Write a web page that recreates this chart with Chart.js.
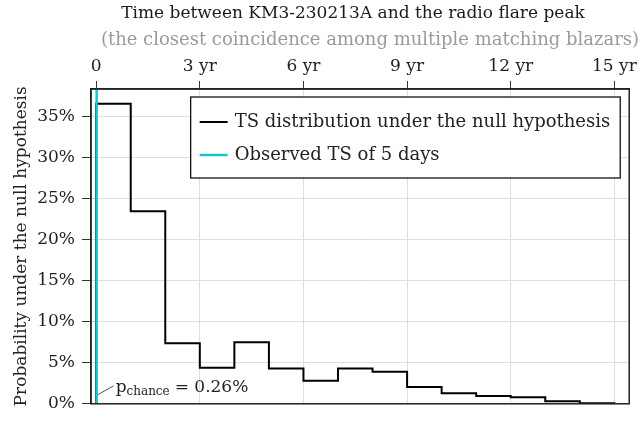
<!DOCTYPE html>
<html lang="en">
<head>
<meta charset="UTF-8">
<title>Time between KM3-230213A and the radio flare peak</title>
<script src="https://cdn.jsdelivr.net/npm/chart.js"></script>
<style>
  html, body { margin: 0; padding: 0; background: #fff; }
  #wrap { width: 641px; height: 421px; }
</style>
</head>
<body>
<div id="wrap"><canvas id="chart"></canvas></div>
<script>
// null-hypothesis TS histogram, 1-year bins (probability in %)
const binEdgesYr = [0, 1, 2, 3, 4, 5, 6, 7, 8, 9, 10, 11, 12, 13, 14, 15];
const nullProb = [36.6, 23.5, 7.4, 4.4, 7.5, 4.3, 2.8, 4.3, 3.9, 2.05, 1.3, 0.95, 0.8, 0.3, 0.08];
const observedDays = 5;
const pChanceText = '0.26%';
const xTicks = [0, 3, 6, 9, 12, 15];
const yTicks = [0, 5, 10, 15, 20, 25, 30, 35];
const X_MIN = -0.15, X_MAX = 15.43, Y_MAX = 38.4;

const titleText = 'Time between KM3-230213A and the radio flare peak';
const subtitleText = '(the closest coincidence among multiple matching blazars)';

const FONT = "'DejaVu Serif', 'Liberation Serif', serif";
const observedYr = observedDays / 365.25;

// outline of the histogram built from the bins
const stepPts = [{ x: binEdgesYr[0], y: 0 }];
nullProb.forEach((v, i) => {
  stepPts.push({ x: binEdgesYr[i], y: v }, { x: binEdgesYr[i + 1], y: v });
});
stepPts.push({ x: binEdgesYr[binEdgesYr.length - 1], y: 0 });

const obsLine = [{ x: observedYr, y: 0 }, { x: observedYr, y: Y_MAX }];

// title + grey subtitle above the top axis
const headPlugin = {
  id: 'head',
  afterDraw(chart) {
    const ctx = chart.ctx;
    ctx.save();
    ctx.textAlign = 'center';
    ctx.textBaseline = 'alphabetic';
    ctx.font = '17px ' + FONT;
    ctx.fillStyle = '#1a1a1a';
    ctx.fillText(titleText, 353, 18);
    ctx.font = '18px ' + FONT;
    ctx.fillStyle = '#9b9b9b';
    ctx.fillText(subtitleText, 370, 45);
    ctx.restore();
  }
};

// frame round the plot area
const framePlugin = {
  id: 'frame',
  afterDatasetsDraw(chart) {
    const a = chart.chartArea, ctx = chart.ctx;
    ctx.save();
    ctx.strokeStyle = '#222';
    ctx.lineWidth = 1.5;
    ctx.strokeRect(a.left, a.top, a.right - a.left, a.bottom - a.top);
    ctx.restore();
  }
};

// p_chance note next to the observed line
const notePlugin = {
  id: 'note',
  afterDatasetsDraw(chart) {
    const ctx = chart.ctx;
    const x0 = chart.scales.x.getPixelForValue(observedYr);
    const y0 = chart.chartArea.bottom;
    ctx.save();
    ctx.strokeStyle = '#555';
    ctx.lineWidth = 1;
    ctx.beginPath();
    ctx.moveTo(x0 + 1, y0 - 9);
    ctx.lineTo(x0 + 17, y0 - 18);
    ctx.stroke();
    ctx.fillStyle = '#222';
    ctx.textBaseline = 'alphabetic';
    let x = x0 + 19;
    ctx.font = '17px ' + FONT;
    ctx.fillText('p', x, y0 - 12);
    x += ctx.measureText('p').width;
    ctx.font = '12px ' + FONT;
    ctx.fillText('chance', x, y0 - 9);
    x += ctx.measureText('chance').width + 5;
    ctx.font = '17px ' + FONT;
    ctx.fillText('= ' + pChanceText, x, y0 - 12);
    ctx.restore();
  }
};

// legend box in the upper right of the plot
const legendPlugin = {
  id: 'boxLegend',
  afterDraw(chart) {
    const ctx = chart.ctx, a = chart.chartArea;
    const sets = [chart.data.datasets[1], chart.data.datasets[0]];
    ctx.save();
    ctx.font = '18px ' + FONT;
    const tw = Math.max(...sets.map(d => ctx.measureText(d.label).width));
    const w = tw + 54, h = 81;
    const bx = a.right - 9 - w, by = a.top + 8;
    ctx.fillStyle = '#fff';
    ctx.fillRect(bx, by, w, h);
    ctx.strokeStyle = '#111';
    ctx.lineWidth = 1.3;
    ctx.strokeRect(bx, by, w, h);
    sets.forEach((d, i) => {
      const cy = by + 25 + i * 33;
      ctx.strokeStyle = d.borderColor;
      ctx.lineWidth = d.borderWidth;
      ctx.beginPath();
      ctx.moveTo(bx + 9, cy);
      ctx.lineTo(bx + 37, cy);
      ctx.stroke();
      ctx.fillStyle = '#222';
      ctx.textBaseline = 'middle';
      ctx.fillText(d.label, bx + 44, cy);
    });
    ctx.restore();
  }
};

new Chart(document.getElementById('chart'), {
  type: 'line',
  data: {
    datasets: [
      {
        label: 'Observed TS of 5 days',
        data: obsLine,
        borderColor: '#14c8cc',
        borderWidth: 2.5,
        pointRadius: 0,
        order: 0
      },
      {
        label: 'TS distribution under the null hypothesis',
        data: stepPts,
        borderColor: '#000',
        borderWidth: 2,
        pointRadius: 0,
        tension: 0,
        order: 1
      }
    ]
  },
  options: {
    responsive: true,
    maintainAspectRatio: false,
    animation: false,
    devicePixelRatio: 1,
    layout: { padding: { left: 0, right: 9, top: 55, bottom: 10 } },
    plugins: {
      legend: { display: false },
      tooltip: { enabled: false }
    },
    scales: {
      x: {
        type: 'linear',
        position: 'top',
        min: X_MIN,
        max: X_MAX,
        afterBuildTicks: s => { s.ticks = xTicks.map(v => ({ value: v })); },
        afterFit: s => { s.height = 34; },
        ticks: {
          color: '#222',
          font: { family: FONT, size: 17 },
          padding: 4,
          maxRotation: 0,
          callback: v => (v === 0 ? '0' : v + ' yr')
        },
        grid: { color: '#dedede', tickColor: '#333', tickLength: 8, lineWidth: 1 },
        border: { color: '#222', width: 1.5 }
      },
      y: {
        min: 0,
        max: Y_MAX,
        afterBuildTicks: s => { s.ticks = yTicks.map(v => ({ value: v })); },
        afterFit: s => { s.width = 91; },
        ticks: {
          color: '#222',
          font: { family: FONT, size: 17 },
          padding: 7,
          callback: v => v + '%'
        },
        grid: { color: '#dedede', tickColor: '#333', tickLength: 9, lineWidth: 1 },
        border: { color: '#222', width: 1.5 },
        title: {
          display: true,
          text: 'Probability under the null hypothesis',
          color: '#222',
          font: { family: FONT, size: 17 },
          padding: { top: 11, bottom: 0 }
        }
      }
    }
  },
  plugins: [framePlugin, notePlugin, legendPlugin, headPlugin]
});
</script>
</body>
</html>
